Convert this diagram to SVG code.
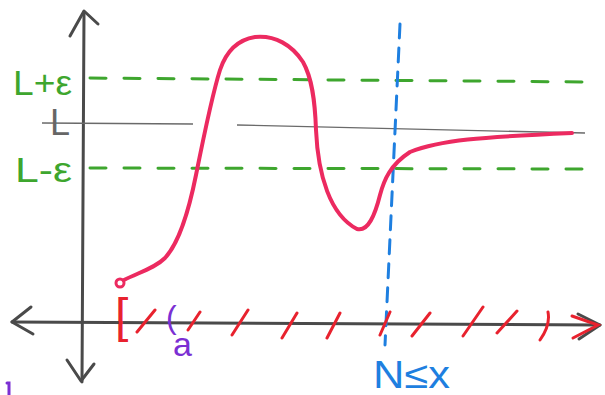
<svg xmlns="http://www.w3.org/2000/svg" width="605" height="395" viewBox="0 0 605 395">
<style>
.axis{fill:none;stroke:#4a4a4a;stroke-width:3;stroke-linecap:round;stroke-linejoin:round}
.lline{fill:none;stroke:#6a6a6a;stroke-width:1.3}
.eps{fill:none;stroke:#3ea62e;stroke-width:3;stroke-dasharray:16 18;stroke-linecap:round}
.nline{fill:none;stroke:#1e7fe0;stroke-width:3;stroke-dasharray:14 10;stroke-linecap:round}
.curve{fill:none;stroke:#ec2a60;stroke-width:4;stroke-linecap:round;stroke-linejoin:round}
.hatch{fill:none;stroke:#e8222e;stroke-width:3;stroke-linecap:round}
.t{font-family:"Liberation Sans",Arial,sans-serif}
.g{fill:#3ea62e}
.b{fill:#1e7fe0}
.p{fill:#7b2fd3}
</style>
<rect width="605" height="395" fill="#ffffff"/>
<g id="axes">
<path class="axis" d="M84,12 L82,382"/>
<path class="axis" d="M70,36 L84,11 L98,24"/>
<path class="axis" d="M67,360 L81,381 L94,364"/>
<path class="axis" d="M12,322 L600,325"/>
<path class="axis" d="M31,307 L12,322 L33,334"/>
<path class="axis" d="M578,314 L600,325 L579,339"/>
</g>
<g id="limit-line">
<path class="lline" d="M42,123 L193,124 M237,125 L585,133"/>
<text class="t" x="50" y="135" font-size="36" fill="#666">L</text>
</g>
<g id="epsilon-band">
<path class="eps" d="M90,78 L595,82"/>
<path class="eps" d="M90,168 L583,169"/>
<text class="t g" x="13" y="95" font-size="35" textLength="59" lengthAdjust="spacingAndGlyphs">L+ε</text>
<text class="t g" x="15" y="182" font-size="35" textLength="57" lengthAdjust="spacingAndGlyphs">L-ε</text>
</g>
<g id="N-line">
<path class="nline" d="M400,24 L385,345"/>
<text class="t b" x="373" y="388" font-size="38" textLength="77" lengthAdjust="spacingAndGlyphs">N≤x</text>
</g>
<g id="function-curve">
<circle cx="120" cy="283" r="4" fill="none" stroke="#ec2a60" stroke-width="3"/>
<path class="curve" d="M124,280 C140,272 155,268 165,258 C178,244 188,215 196,175 C203,140 212,95 220,70 C226,52 236,40 255,37 C275,35 292,45 303,62 C312,78 315,100 316,130 C318,175 330,215 357,229 C368,232 375,215 380,195 C384,180 390,165 410,152 C440,140 480,137 572,133"/>
</g>
<g id="interval">
<text class="t" x="115" y="332" font-size="48" fill="#e8222e">[</text>
<path class="hatch" d="M137,332 L155,310 M188,330 L200,312 M232,335 L248,310 M282,338 L297,313 M327,338 L340,313 M380,335 L390,312 M412,336 L430,313 M463,336 L483,307 M497,333 L517,311 M540,340 C547,330 550,322 548,312"/>
<path class="hatch" d="M572,316 L598,325 L573,338"/>
<text class="t p" x="166" y="328" font-size="32">(</text>
<text class="t p" x="173" y="356" font-size="34">a</text>
<path d="M7,383 L9,383 L9,395" fill="none" stroke="#7b2fd3" stroke-width="3" stroke-linecap="round"/>
</g>
</svg>
